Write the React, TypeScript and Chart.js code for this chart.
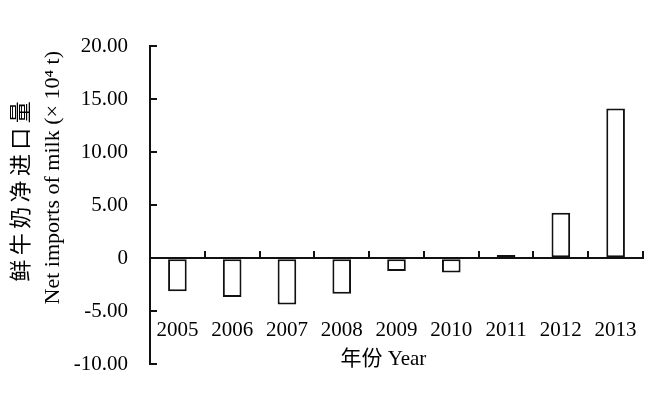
import React, { useEffect, useRef } from 'react';
import { Chart, registerables } from 'chart.js';

Chart.register(...registerables);

const years = ['2005', '2006', '2007', '2008', '2009', '2010', '2011', '2012', '2013'];
const netImports = [-3.1, -3.65, -4.35, -3.35, -1.2, -1.35, 0.3, 4.3, 14.1];
const yMin = -10;
const yMax = 20;
const yStep = 5;
const yTitle = ['     鲜\u2009牛\u2009奶\u2009净\u2009进\u2009口\u2009量', '          Net imports of milk (× 10⁴ t)'];
const xTitle = '年份 Year     ';

const FONT = "'Liberation Serif', 'Noto Sans CJK SC', serif";

export default function App() {
  const ref = useRef<HTMLCanvasElement | null>(null);

  useEffect(() => {
    if (!ref.current) return;
    Chart.defaults.font.family = FONT;
    Chart.defaults.color = '#000';
    const chart = new Chart(ref.current, {
      type: 'bar',
      data: {
        labels: years,
        datasets: [
          {
            data: netImports,
            backgroundColor: '#ffffff',
            borderColor: '#111111',
            borderWidth: 2,
            borderSkipped: false,
            barPercentage: 0.34,
            categoryPercentage: 1,
            xAxisID: 'x',
            yAxisID: 'y',
          },
        ],
      },
      options: {
        responsive: true,
        maintainAspectRatio: false,
        animation: false,
        layout: { padding: { left: 0, right: 19, top: 46, bottom: 39 } },
        plugins: { legend: { display: false }, tooltip: { enabled: false } },
        scales: {
          x: {
            type: 'category',
            position: { y: 0 } as any,
            offset: true,
            z: 1,
            grid: {
              display: true,
              offset: true,
              drawOnChartArea: false,
              drawTicks: true,
              tickLength: -8,
              color: '#111',
              lineWidth: 2,
            },
            border: { display: true, color: '#111', width: 2 },
            ticks: { display: false },
          },
          x2: {
            type: 'category',
            labels: years,
            position: { y: -4.8 } as any,
            offset: true,
            grid: { display: false, offset: true },
            border: { display: false },
            ticks: { padding: 1, color: '#000', font: { size: 21 }, maxRotation: 0, autoSkip: false },
            title: {
              display: true,
              text: xTitle,
              color: '#000',
              font: { size: 21 },
              padding: { top: 2, bottom: 0 },
            },
          },
          y: {
            type: 'linear',
            position: 'left',
            min: yMin,
            max: yMax,
            afterFit: (s: any) => {
              s.width = 150;
            },
            ticks: {
              stepSize: yStep,
              padding: 29,
              color: '#000',
              font: { size: 21 },
              callback: (v: any) => (Number(v) === 0 ? '0' : Number(v).toFixed(2)),
            },
            grid: {
              drawOnChartArea: false,
              drawTicks: true,
              tickLength: -7,
              color: '#111',
              lineWidth: 2,
            },
            border: { display: true, color: '#111', width: 2 },
            title: {
              display: true,
              text: yTitle,
              color: '#000',
              font: { size: 22, lineHeight: 1.4 },
              padding: { top: 7, bottom: 0 },
            },
          },
        },
      },
    });
    return () => chart.destroy();
  }, []);

  return (
    <div style={{ position: 'absolute', left: 0, top: 0, width: 662, height: 406 }}>
      <canvas ref={ref} />
    </div>
  );
}
